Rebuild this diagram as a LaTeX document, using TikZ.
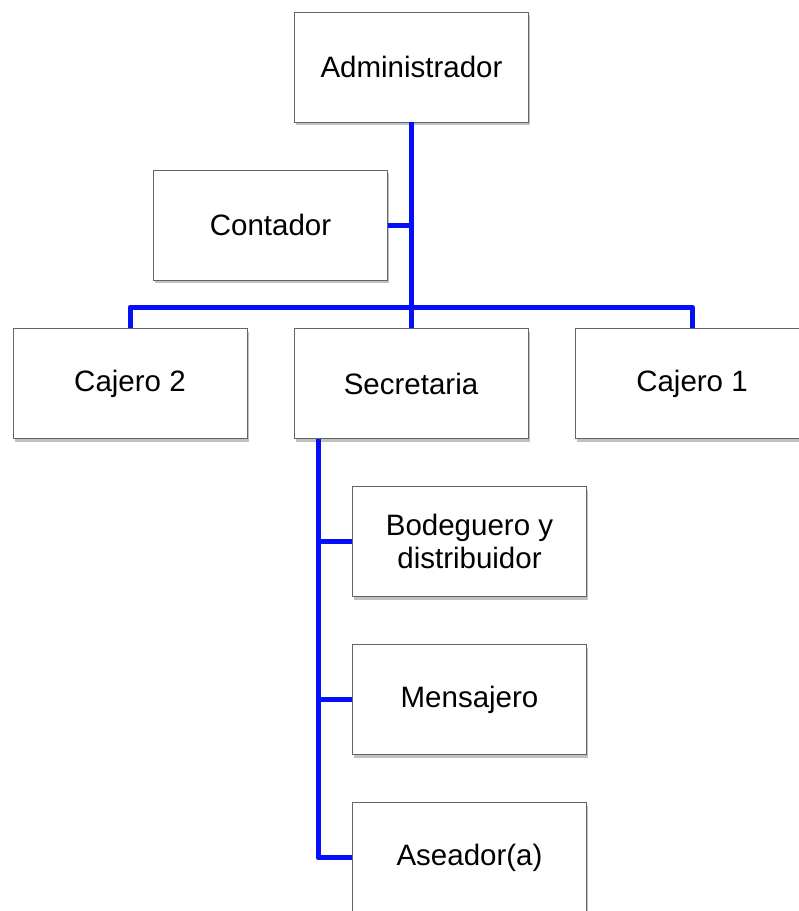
\documentclass[tikz,border=0pt]{standalone}
\usepackage{fontspec}
\setmainfont{Liberation Sans}
\usetikzlibrary{shadows,calc}
\definecolor{linkblue}{RGB}{5,15,250}
\definecolor{boxedge}{RGB}{95,100,115}
\begin{document}
\begin{tikzpicture}[x=1pt,y=-1pt,
  orgbox/.style={draw=boxedge, line width=0.9pt, fill=white,
    minimum width=234pt, minimum height=110pt, inner sep=2pt,
    align=center, font=\fontsize{29.5}{33}\selectfont,
    drop shadow={shadow xshift=1.5pt, shadow yshift=-3pt, opacity=0.4, fill=black!60}},
  link/.style={draw=linkblue, line width=5pt, line join=round, line cap=butt}]
\useasboundingbox (0,0) rectangle (799,911);
\fill[white] (0,0) rectangle (799,911);
\coordinate (bus) at (411.5,307);
\coordinate (sp) at (318,439);
% nodes
\node[orgbox] (adm) at (411.5,67) {Administrador};
\node[orgbox] (cont) at (270.5,225) {Contador};
\node[orgbox] (caj2) at (130,383.5) {Cajero 2};
\node[orgbox] (sec) at (411,383.5) {Secretaria};
\node[orgbox] (caj1) at (692,383.5) {Cajero 1};
\node[orgbox] (bod) at (469.5,541.5) {Bodeguero y\\distribuidor};
\node[orgbox] (men) at (469.5,699.5) {Mensajero};
\node[orgbox] (ase) at (469.5,857.5) {Aseador(a)};
% links
\draw[link] (adm.south) -- (adm.south |- sec.north);
\draw[link] (cont.east) -- (cont.east -| adm.south);
\draw[link] (caj2.north) |- (bus) -| (caj1.north);
\draw[link] (sp) |- (ase.west);
\draw[link] (bod.west) -- (bod.west -| sp);
\draw[link] (men.west) -- (men.west -| sp);
\end{tikzpicture}
\end{document}
